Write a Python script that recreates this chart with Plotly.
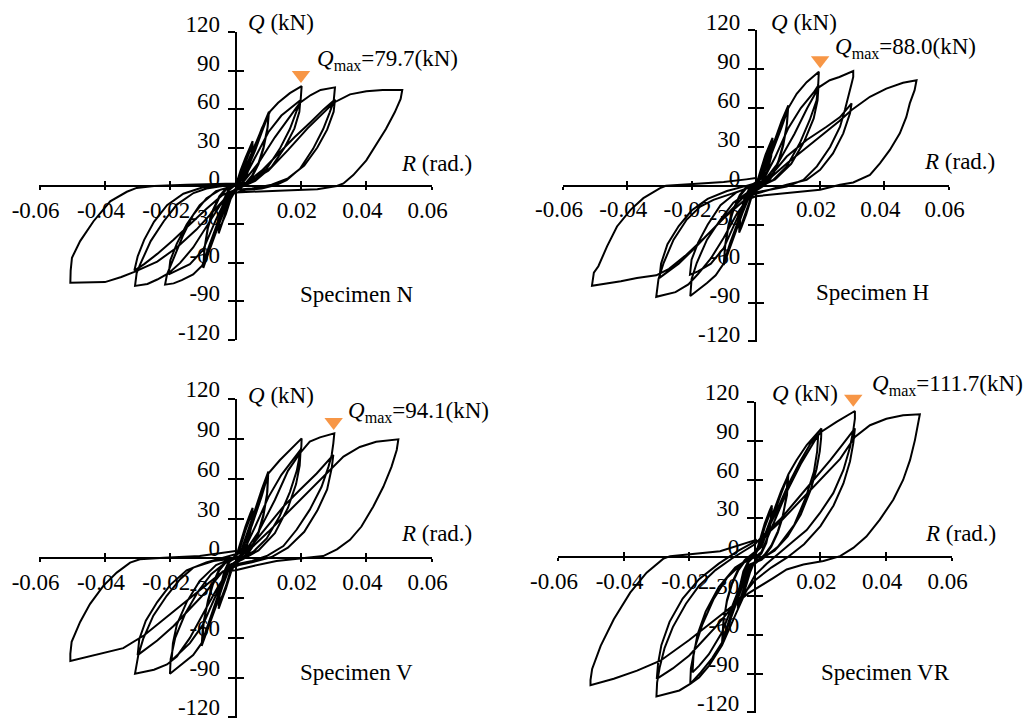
import plotly.graph_objects as go

# ---------------- data (R in rad, Q in kN) ----------------
SPECIMENS = ["N", "H", "V", "VR"]
QMAX = [79.7, 88.0, 94.1, 111.7]
QMAX_R = [0.02, 0.02, 0.03, 0.03]

X_TICKS = [-0.06, -0.04, -0.02, 0.02, 0.04, 0.06]
X_TICKTEXT = ["-0.06", "-0.04", "-0.02", "0.02", "0.04", "0.06"]
Y_TICKS = [-120, -90, -60, -30, 0, 30, 60, 90, 120]
Y_TICKTEXT = ["-120", "-90", "-60", "-30", "0", "30", "60", "90", "120"]

N_R = [0.0,
       0.0015, 0.003, 0.0045, 0.0052,
       0.0048, 0.0035, 0.002, 0.0005,
       -0.001, -0.0025, -0.004, -0.0052,
       -0.0048, -0.0035, -0.002, -0.0005,
       0.0015, 0.003, 0.0045, 0.0052,
       0.0048, 0.0035, 0.002, 0.0005,
       -0.0015, -0.003, -0.0045, -0.0052,
       -0.0048, -0.0035, -0.002, -0.0005,
       0.002, 0.004, 0.006, 0.008, 0.0102,
       0.0098, 0.0085, 0.007, 0.005, 0.003, 0.001,
       -0.002, -0.004, -0.006, -0.008, -0.0099,
       -0.0096, -0.0085, -0.007, -0.005, -0.003, -0.001,
       0.002, 0.004, 0.006, 0.008, 0.0101,
       0.0097, 0.0085, 0.007, 0.005, 0.003, 0.001,
       -0.002, -0.004, -0.006, -0.008, -0.0098,
       -0.0095, -0.0085, -0.007, -0.005, -0.003, -0.001,
       0.002, 0.005, 0.008, 0.0105, 0.013, 0.0166, 0.0202,
       0.0199, 0.0186, 0.0166, 0.0135, 0.0095, 0.0054, 0.0013,
       -0.002, -0.005, -0.008, -0.0102, -0.013, -0.0165, -0.019, -0.0216,
       -0.021, -0.019, -0.016, -0.013, -0.0089, -0.0048, -0.0007,
       0.002, 0.006, 0.010, 0.014, 0.018, 0.0198,
       0.0195, 0.018, 0.015, 0.011, 0.006, 0.001,
       -0.002, -0.006, -0.010, -0.014, -0.018, -0.0205,
       -0.020, -0.018, -0.015, -0.011, -0.006, -0.001,
       0.002, 0.007, 0.012, 0.016, 0.0197, 0.023, 0.026, 0.0304,
       0.0300, 0.0288, 0.0268, 0.0237, 0.0197, 0.0156, 0.0125, 0.008, 0.003,
       -0.003, -0.008, -0.013, -0.017, -0.0205, -0.024, -0.027, -0.0308,
       -0.0303, -0.0292, -0.026, -0.022, -0.018, -0.0129, -0.0089, -0.004, 0.0,
       0.003, 0.008, 0.013, 0.018, 0.023, 0.027, 0.0304,
       0.030, 0.028, 0.025, 0.021, 0.016, 0.011, 0.005, 0.0,
       -0.004, -0.009, -0.014, -0.019, -0.024, -0.028, -0.031,
       -0.030, -0.028, -0.025, -0.021, -0.016, -0.010, -0.004, 0.0,
       0.004, 0.010, 0.016, 0.022, 0.027, 0.030, 0.035, 0.040, 0.045, 0.051,
       0.0505, 0.0487, 0.046, 0.043, 0.040, 0.036, 0.033, 0.031, 0.025, 0.015, 0.005, 0.0,
       -0.003, -0.007, -0.012, -0.018, -0.024, -0.031, -0.035, -0.040, -0.045, -0.0506,
       -0.0505, -0.0501, -0.0476, -0.0435, -0.0384, -0.0333, -0.0303, -0.025, -0.015, -0.005, 0.0]
N_Q = [0,
       12, 22, 31, 35,
       24, 10, 3, 0,
       -6, -16, -28, -37,
       -25, -11, -3, 0,
       8, 18, 28, 33,
       22, 9, 2, -1,
       -10, -22, -31, -35,
       -23, -10, -2, 0,
       8, 20, 32, 45, 58,
       46, 30, 18, 8, 2, -1,
       -9, -22, -36, -50, -64,
       -50, -33, -20, -9, -3, 0,
       5, 16, 28, 42, 56,
       44, 29, 17, 7, 1, -2,
       -7, -19, -33, -48, -62,
       -48, -32, -19, -8, -2, 0,
       6, 25, 45, 58, 65, 72.5, 78,
       67, 57.5, 44.5, 29, 13.5, 4.5, 0,
       -6, -25, -46, -62, -69, -73.5, -76, -77,
       -69, -56, -38, -22.5, -9.5, -3, 0,
       3, 22, 42, 55, 63, 67,
       58, 45, 30, 15, 4, -2,
       -5, -26, -50, -61, -66, -69,
       -58, -45, -30, -15, -4, 0,
       2, 18, 38, 52, 65, 71, 75, 77,
       66, 57.5, 44.5, 29, 13.5, 4.5, 1, -2, -3,
       -8, -28, -48, -60, -68, -73, -76.5, -78,
       -68, -61, -43, -27.5, -14.5, -5.5, -2, 0, 1,
       2, 12, 25, 38, 50, 60, 67.5,
       58, 44, 30, 16, 6, 1, -2, -3,
       -7, -18, -30, -42, -53, -61, -66,
       -55, -42, -28, -15, -6, -1, 1, 1,
       3, 12, 28, 45, 58, 65, 71.5, 74, 75, 75,
       68, 57.5, 44.5, 32, 20, 8.5, 2, 0, -2.5, -3.5, -4.5, -5,
       -9, -20, -34, -48, -59, -67, -71, -75, -75.5, -75.5,
       -66, -56, -43, -27.5, -12, -4.5, -1.5, 0, 1, 1.5, 2]

H_R = [0.0,
       0.0015, 0.003, 0.0045, 0.0052,
       0.0048, 0.0035, 0.002, 0.0005,
       -0.0015, -0.003, -0.0045, -0.0052,
       -0.0048, -0.0035, -0.002, -0.0005,
       0.0015, 0.003, 0.0045, 0.0052,
       0.0048, 0.0035, 0.002, 0.0005,
       -0.0015, -0.003, -0.0045, -0.0052,
       -0.0048, -0.0035, -0.002, -0.0005,
       0.002, 0.004, 0.006, 0.008, 0.0101,
       0.0097, 0.0085, 0.007, 0.005, 0.003, 0.001,
       -0.002, -0.004, -0.006, -0.008, -0.010,
       -0.0096, -0.0085, -0.007, -0.005, -0.003, -0.001,
       0.002, 0.004, 0.006, 0.008, 0.0100,
       0.0096, 0.0085, 0.007, 0.005, 0.003, 0.001,
       -0.002, -0.004, -0.006, -0.008, -0.0099,
       -0.0095, -0.0085, -0.007, -0.005, -0.003, -0.001,
       0.002, 0.005, 0.008, 0.0101, 0.0127, 0.0158, 0.0196,
       0.0194, 0.0189, 0.0168, 0.0137, 0.0096, 0.0054, 0.0013,
       -0.002, -0.005, -0.008, -0.010, -0.0125, -0.0152, -0.018, -0.0204,
       -0.020, -0.0184, -0.0152, -0.011, -0.007, -0.0028, 0.0,
       0.002, 0.006, 0.010, 0.014, 0.018, 0.0195,
       0.0192, 0.018, 0.015, 0.011, 0.006, 0.001,
       -0.002, -0.006, -0.010, -0.014, -0.018, -0.0205,
       -0.020, -0.018, -0.015, -0.011, -0.006, -0.001,
       0.002, 0.007, 0.012, 0.016, 0.0196, 0.023, 0.026, 0.0303,
       0.0303, 0.0298, 0.0288, 0.0277, 0.0262, 0.0231, 0.019, 0.0148, 0.0096, 0.004, 0.0,
       -0.002, -0.006, -0.010, -0.014, -0.018, -0.021, -0.025, -0.031,
       -0.0303, -0.0287, -0.0256, -0.0215, -0.0173, -0.0132, -0.007, 0.0,
       0.003, 0.0096, 0.0158, 0.022, 0.0262, 0.0298,
       0.0293, 0.0272, 0.024, 0.020, 0.0158, 0.0096, 0.004, 0.0,
       -0.004, -0.009, -0.014, -0.019, -0.024, -0.0300,
       -0.0295, -0.0275, -0.024, -0.020, -0.015, -0.009, -0.003, 0.0,
       0.004, 0.010, 0.016, 0.022, 0.026, 0.0298, 0.0355, 0.0406, 0.0458, 0.050,
       0.0494, 0.0479, 0.0468, 0.0448, 0.0417, 0.0386, 0.0355, 0.0303, 0.0262, 0.020, 0.012, 0.005, 0.0,
       -0.004, -0.010, -0.016, -0.022, -0.027, -0.031, -0.037, -0.042, -0.051,
       -0.0508, -0.0504, -0.049, -0.0463, -0.0432, -0.039, -0.035, -0.0298, -0.028, -0.020, -0.010, -0.003, 0.0]
H_Q = [0,
       12, 24, 33, 37,
       25, 11, 4, 0,
       -10, -22, -32, -36,
       -24, -10, -3, 0,
       9, 20, 30, 35,
       23, 10, 3, -1,
       -9, -20, -30, -34,
       -22, -9, -2, 0,
       8, 22, 36, 50, 62,
       48, 32, 19, 8, 2, -1,
       -8, -20, -34, -48, -61,
       -47, -31, -19, -8, -2, 1,
       6, 19, 33, 47, 60,
       46, 31, 18, 7, 1, -2,
       -7, -19, -32, -46, -59,
       -45, -30, -18, -7, -1, 1,
       6, 25, 45, 60, 71, 80, 88,
       78, 66, 51, 33, 15, 4.5, 0.5,
       -6, -24, -44, -60, -69, -75, -80, -85,
       -72, -59.5, -41.5, -26, -13, -5.5, -1,
       3, 22, 44, 60, 72, 77.7,
       66, 52, 34, 17, 5, -1,
       -5, -26, -48, -60, -66, -68.5,
       -57, -44, -30, -15, -5, 0,
       2, 18, 40, 60, 76, 81.5, 84, 88.5,
       84, 79, 68.7, 58.5, 45.6, 30, 15, 4.6, -0.5, -3, -5,
       -8, -22, -40, -56, -68, -76, -82, -85.6,
       -72, -59.5, -41.5, -26, -16, -10.8, -5.6, 0,
       3, 22.6, 35.4, 45.6, 53, 63.6,
       56, 40.5, 25, 12.3, 4.6, 0.8, -3, -6,
       -9, -22, -35, -48, -60, -71,
       -60, -45, -31, -19, -10, -4, 0, 2,
       5, 18, 30, 42, 50, 58.5, 68.7, 75, 79.5, 81.5,
       73.8, 63.6, 53, 40.5, 27.7, 17.4, 8.5, 2.6, 0.8, -3, -5, -7, -8,
       -12, -25, -40, -54, -64, -69, -71, -73.6, -77,
       -72, -67, -62, -46.7, -31.3, -18.5, -9.5, -1.8, 0, 1.5, 3, 5, 6]

V_R = [0.0,
       0.0015, 0.003, 0.0045, 0.0052,
       0.0048, 0.0035, 0.002, 0.0005,
       -0.0015, -0.003, -0.0045, -0.0052,
       -0.0048, -0.0035, -0.002, -0.0005,
       0.0015, 0.003, 0.0045, 0.0052,
       0.0048, 0.0035, 0.002, 0.0005,
       -0.0015, -0.003, -0.0045, -0.0052,
       -0.0048, -0.0035, -0.002, -0.0005,
       0.002, 0.004, 0.006, 0.008, 0.010,
       0.0097, 0.0085, 0.007, 0.005, 0.003, 0.001,
       -0.002, -0.004, -0.006, -0.008, -0.0104,
       -0.010, -0.0085, -0.007, -0.005, -0.003, -0.001,
       0.002, 0.004, 0.006, 0.008, 0.0099,
       0.0096, 0.0085, 0.007, 0.005, 0.003, 0.001,
       -0.002, -0.004, -0.006, -0.008, -0.0102,
       -0.0098, -0.0085, -0.007, -0.005, -0.003, -0.001,
       0.002, 0.005, 0.008, 0.010, 0.0135, 0.0166, 0.0202,
       0.0201, 0.0197, 0.0187, 0.0166, 0.0135, 0.0095, 0.0054, 0.0013,
       -0.002, -0.005, -0.008, -0.0104, -0.013, -0.0165, -0.0201,
       -0.0199, -0.0185, -0.0155, -0.0115, -0.0075, -0.0035, 0.0,
       0.002, 0.006, 0.010, 0.014, 0.018, 0.0199,
       0.0196, 0.0185, 0.016, 0.012, 0.007, 0.002,
       -0.002, -0.006, -0.010, -0.014, -0.018, -0.0196,
       -0.0192, -0.018, -0.015, -0.011, -0.006, -0.001,
       0.002, 0.007, 0.012, 0.016, 0.0199, 0.0227, 0.0258, 0.0302,
       0.0299, 0.0294, 0.0284, 0.0263, 0.0227, 0.0187, 0.0146, 0.0095, 0.005, 0.001,
       -0.002, -0.006, -0.010, -0.014, -0.018, -0.021, -0.025, -0.0308,
       -0.0298, -0.0283, -0.0252, -0.0211, -0.017, -0.013, -0.0068, 0.0,
       0.003, 0.0095, 0.0146, 0.0197, 0.0248, 0.0299,
       0.0294, 0.028, 0.025, 0.021, 0.016, 0.011, 0.005, 0.001,
       -0.004, -0.009, -0.014, -0.019, -0.024, -0.030,
       -0.0295, -0.0275, -0.024, -0.020, -0.015, -0.009, -0.003, 0.0,
       0.004, 0.010, 0.016, 0.022, 0.026, 0.0289, 0.033, 0.038, 0.043, 0.0498,
       0.0493, 0.0477, 0.0452, 0.0421, 0.0385, 0.035, 0.031, 0.0268, 0.0197, 0.0125, 0.0054, 0.0,
       -0.004, -0.010, -0.016, -0.022, -0.028, -0.0344, -0.042, -0.0506,
       -0.0506, -0.0502, -0.0476, -0.0446, -0.0405, -0.0364, -0.0323, -0.0293, -0.022, -0.011, 0.0]
V_Q = [0,
       12, 24, 34, 38,
       26, 11, 4, 0,
       -11, -23, -33, -38,
       -25, -11, -3, 0,
       9, 21, 31, 36,
       24, 10, 3, -1,
       -9, -21, -31, -36,
       -23, -10, -2, 0,
       8, 22, 37, 52, 65.5,
       50, 33, 20, 9, 2, -1,
       -8, -21, -36, -50, -66,
       -50, -33, -20, -9, -3, 0,
       6, 19, 34, 49, 63,
       48, 32, 19, 8, 1, -2,
       -7, -19, -34, -49, -64,
       -49, -32, -19, -8, -2, 0,
       6, 25, 47, 64, 74, 81.75, 90.5,
       84, 78, 66, 50, 32, 15, 5, 0,
       -6, -25, -46, -64, -73, -80, -87,
       -76, -60, -42, -25, -12, -4, 0,
       3, 24, 46, 63, 76, 82,
       70, 56, 38, 19, 6, -1,
       -5, -27, -50, -64, -73, -77,
       -64, -50, -33, -17, -5, 0,
       2, 20, 44, 66, 80, 88, 91.25, 94.25,
       86.75, 78, 69, 54, 36.75, 21.75, 9.25, 1.75, -2, -4,
       -8, -24, -42, -60, -74, -80, -84, -87,
       -73, -60.75, -43.25, -28.25, -15.75, -7, -2, 0,
       4, 24, 39, 51.75, 64, 78,
       68, 52, 36, 20, 8, 1, -3, -5,
       -10, -25, -38, -51, -62, -73,
       -61, -47, -33, -20, -9, -3, 1, 3,
       6, 20, 35, 50, 60, 66.75, 76.75, 84, 88, 89.75,
       81.75, 69, 54, 39, 24, 14, 6.75, 1.75, 0, -2, -5.75, -9,
       -10, -22, -34, -46, -58, -67.75, -72.5, -77.5,
       -72, -63, -48, -34.5, -20.75, -10.75, -3.25, -0.75, 0.5, 1.75, 5.5]

VR_R = [0.0,
        0.0015, 0.003, 0.0045, 0.0052,
        0.0048, 0.0035, 0.002, 0.0005,
        -0.0015, -0.003, -0.0045, -0.0052,
        -0.0048, -0.0035, -0.002, -0.0005,
        0.0015, 0.003, 0.0045, 0.0052,
        0.0048, 0.0035, 0.002, 0.0005,
        -0.0015, -0.003, -0.0045, -0.0052,
        -0.0048, -0.0035, -0.002, -0.0005,
        0.002, 0.004, 0.006, 0.008, 0.0102,
        0.0098, 0.0085, 0.007, 0.005, 0.003, 0.001,
        -0.002, -0.004, -0.006, -0.008, -0.010,
        -0.0096, -0.0085, -0.007, -0.005, -0.003, -0.001,
        0.002, 0.004, 0.006, 0.008, 0.0100,
        0.0096, 0.0085, 0.007, 0.005, 0.003, 0.001,
        -0.002, -0.004, -0.006, -0.008, -0.0099,
        -0.0095, -0.0085, -0.007, -0.005, -0.003, -0.001,
        0.002, 0.005, 0.008, 0.0102, 0.0127, 0.0158, 0.0203,
        0.0202, 0.0198, 0.0188, 0.017, 0.014, 0.010, 0.006, 0.002,
        -0.002, -0.005, -0.008, -0.010, -0.013, -0.0165, -0.0197,
        -0.0195, -0.0183, -0.016, -0.0125, -0.0085, -0.004, 0.0,
        0.002, 0.006, 0.010, 0.014, 0.017, 0.0193,
        0.019, 0.018, 0.0155, 0.012, 0.007, 0.002,
        -0.002, -0.006, -0.010, -0.014, -0.017, -0.019,
        -0.0187, -0.0175, -0.015, -0.011, -0.006, -0.001,
        0.002, 0.006, 0.010, 0.014, 0.017, 0.0203, 0.0249, 0.0305,
        0.0305, 0.030, 0.029, 0.027, 0.0239, 0.0198, 0.0158, 0.0117, 0.0077, 0.0036, 0.0,
        -0.003, -0.006, -0.010, -0.014, -0.017, -0.0197, -0.023, -0.030,
        -0.0298, -0.029, -0.0275, -0.025, -0.021, -0.017, -0.012, -0.007, -0.002, 0.0,
        0.003, 0.008, 0.013, 0.018, 0.023, 0.027, 0.0305,
        0.030, 0.029, 0.027, 0.024, 0.020, 0.015, 0.010, 0.005, 0.0,
        -0.004, -0.008, -0.012, -0.016, -0.020, -0.025, -0.0299,
        -0.0295, -0.0285, -0.026, -0.022, -0.017, -0.011, -0.005, 0.0,
        0.002, 0.008, 0.014, 0.020, 0.026, 0.0305, 0.0351, 0.0401, 0.0452, 0.0503,
        0.0498, 0.0488, 0.0473, 0.0452, 0.0422, 0.0381, 0.034, 0.030, 0.026, 0.0209, 0.0148, 0.0097, 0.0057, 0.0016,
        -0.002, -0.008, -0.014, -0.020, -0.0288, -0.0359, -0.043, -0.0501,
        -0.0501, -0.0496, -0.047, -0.043, -0.038, -0.033, -0.0278, -0.0258, -0.0106, -0.0055, 0.0006]
VR_Q = [0,
        13, 26, 36, 40,
        28, 12, 4, 0,
        -12, -25, -35, -40,
        -27, -12, -4, 0,
        10, 23, 33, 38,
        26, 11, 3, -1,
        -10, -22, -33, -38,
        -25, -11, -3, 0,
        10, 24, 38, 51, 63.6,
        48, 32, 20, 9, 2, -2,
        -10, -24, -38, -52, -66,
        -50, -34, -21, -10, -3, 1,
        8, 21, 35, 49, 62,
        47, 31, 19, 8, 1, -3,
        -9, -22, -37, -51, -64,
        -49, -33, -20, -9, -2, 2,
        8, 28, 50, 64, 75, 86.7, 99.5,
        92, 82, 68, 52, 33, 16, 5, -1,
        -8, -28, -50, -66, -78, -89, -98,
        -86, -70, -52, -32, -16, -5, 0,
        4, 28, 52, 72, 85, 94.4,
        82, 66, 46, 25, 8, -2,
        -6, -32, -58, -75, -84, -89,
        -76, -60, -42, -23, -8, 0,
        12, 32, 55, 75, 88, 97, 104.6, 113,
        107, 98, 85, 67.4, 49.5, 34, 21, 12.3, 4, -5, -14,
        -28, -45, -68, -84, -93, -98, -103, -107.7,
        -97, -85, -70, -54, -36, -22, -10, -1, 7, 10,
        18, 30, 45, 60, 75, 88, 99.5,
        88, 74, 57, 40, 24, 10, 0, -8, -18,
        -30, -42, -54, -65, -76, -86, -94,
        -82, -68, -50, -32, -17, -5, 5, 12,
        14, 28, 44, 60, 76, 93, 102, 107, 109.7, 110.5,
        103, 90.5, 75, 59.7, 44.4, 29, 16, 7.2, 0.8, -3, -5.6, -9.5, -16, -22.3,
        -28, -40, -52, -64, -80, -87.7, -94, -99,
        -95, -86.4, -68.5, -48, -27.4, -12, -1, 0.8, 4.6, 8.5, 13.6]

SERIES_R = [N_R, H_R, V_R, VR_R]
SERIES_Q = [N_Q, H_Q, V_Q, VR_Q]

# ---------------- style / layout ----------------
W, H = 1033, 720
OFF = 8                    # page body margin compensation (px)
FONT = "Liberation Serif"
FS = 23
ORANGE = "#F79646"
# panel plot-area boxes in target-image pixels: x0, x1, ytop, ybottom
PANELS_PX = [(39.3, 432.0, 32.0, 340.0), (562.7, 949.0, 30.0, 341.7),
             (39.3, 432.0, 399.0, 717.7), (557.7, 952.0, 401.7, 712.7)]
QT_SHIFT = [(10, 10), (13, 8), (10, 4), (15, 8)]          # "Q (kN)" label
RT_SHIFT = [(5, 23), (11, 24), (5, 25), (9, 24)]          # "R (rad.)" label
QM_SHIFT = [(14, 24), (12.5, 23.5), (12.8, 22), (16.6, 27.5)]  # Qmax text
MARK_PX = [9, 11.5, 11.6, 14]                             # marker above peak
EXTRA_PX = 20                                             # headroom for markers
YLAB_SHIFT = [-8, -8, -10, -10]
SPEC_POS = [(0.019, -84.5), (0.018, -82.2), (0.019, -86.3), (0.0196, -89.5)]

fig = go.Figure()
layout = dict(width=W, height=H,
              margin=dict(l=0, r=0, t=0, b=0, pad=0, autoexpand=False),
              paper_bgcolor="white", plot_bgcolor="rgba(0,0,0,0)",
              showlegend=False, font=dict(family=FONT, size=FS, color="black"))
annotations = []
YR = [-120.2, 120.2]
XR = [-0.0601, 0.0601]

for i in range(4):
    x0, x1, yt, yb = [v - OFF for v in PANELS_PX[i]]
    xd = [x0 / W, x1 / W]
    yd = [1 - yb / H, 1 - yt / H]
    xmid = (xd[0] + xd[1]) / 2
    ymid = (yd[0] + yd[1]) / 2
    n = i + 1
    sx = "" if n == 1 else str(n)
    xa, ya = "x" + sx, "y" + sx
    xo, yo = "x" + str(n + 4), "y" + str(n + 4)
    xm, ym = "x" + str(n + 8), "y" + str(n + 8)
    kn_per_px = (YR[1] - YR[0]) / (yb - yt)

    fig.add_trace(go.Scatter(x=SERIES_R[i], y=SERIES_Q[i], mode="lines",
                             line=dict(color="black", width=2),
                             xaxis=xa, yaxis=ya, hoverinfo="skip"))
    fig.add_trace(go.Scatter(x=[None], y=[None], xaxis=xo, yaxis=yo,
                             hoverinfo="skip", showlegend=False))
    # Qmax marker on a hidden axis pair with extra headroom (same data->pixel mapping)
    fig.add_trace(go.Scatter(x=[QMAX_R[i]], y=[QMAX[i] + MARK_PX[i] * kn_per_px],
                             mode="markers",
                             marker=dict(symbol="triangle-down", size=16, color=ORANGE,
                                         line=dict(width=0)),
                             xaxis=xm, yaxis=ym, hoverinfo="skip"))

    common = dict(showgrid=False, zeroline=False, fixedrange=True, automargin=False)
    layout["xaxis" + sx] = dict(domain=xd, range=XR, anchor="free",
                                position=ymid, showline=True, linecolor="black",
                                linewidth=2, ticks="outside", ticklen=3, tickwidth=2,
                                tickcolor="black", tickvals=X_TICKS, ticktext=X_TICKTEXT,
                                ticklabelshift=-4,
                                tickfont=dict(family=FONT, size=FS, color="black"),
                                **common)
    layout["yaxis" + sx] = dict(domain=yd, range=YR, anchor="free",
                                position=xmid, showline=True, linecolor="black",
                                linewidth=2, ticks="outside", ticklen=7, tickwidth=2,
                                tickcolor="black", tickvals=Y_TICKS, ticktext=Y_TICKTEXT,
                                ticklabelstandoff=3, ticklabelshift=YLAB_SHIFT[i],
                                tickfont=dict(family=FONT, size=FS, color="black"),
                                **common)
    layout["xaxis" + str(n + 4)] = dict(overlaying=xa, range=XR,
                                        anchor="free", position=ymid, side="bottom",
                                        showline=False, ticks="inside", ticklen=5,
                                        tickwidth=2, tickcolor="black", tickvals=X_TICKS,
                                        showticklabels=False, **common)
    layout["yaxis" + str(n + 4)] = dict(overlaying=ya, range=YR,
                                        anchor="free", position=xmid, side="left",
                                        showline=False, ticks="inside", ticklen=7,
                                        tickwidth=2, tickcolor="black", tickvals=Y_TICKS,
                                        showticklabels=False, **common)
    # hidden marker axes: same x domain, y domain extended upward by EXTRA_PX
    layout["xaxis" + str(n + 8)] = dict(domain=xd, range=XR, visible=False,
                                        anchor=ym, **common)
    layout["yaxis" + str(n + 8)] = dict(domain=[yd[0], yd[1] + EXTRA_PX / H],
                                        range=[YR[0], YR[1] + EXTRA_PX * kn_per_px],
                                        visible=False, anchor=xm, **common)

    fnt = dict(family=FONT, size=FS, color="black")
    annotations.append(dict(text="<i>Q</i> (kN)", x=0, y=120, xref=xa, yref=ya,
                            xanchor="left", yanchor="middle", showarrow=False,
                            xshift=QT_SHIFT[i][0], yshift=QT_SHIFT[i][1], font=fnt))
    annotations.append(dict(text="<i>R</i> (rad.)", x=0.06, y=0, xref=xa, yref=ya,
                            xanchor="center", yanchor="middle", showarrow=False,
                            xshift=RT_SHIFT[i][0], yshift=RT_SHIFT[i][1], font=fnt))
    annotations.append(dict(text="<i>Q</i><sub>max</sub>=%.1f(kN)" % QMAX[i],
                            x=QMAX_R[i], y=QMAX[i], xref=xa, yref=ya,
                            xanchor="left", yanchor="middle", showarrow=False,
                            xshift=QM_SHIFT[i][0], yshift=QM_SHIFT[i][1], font=fnt))
    annotations.append(dict(text="Specimen " + SPECIMENS[i], x=SPEC_POS[i][0],
                            y=SPEC_POS[i][1], xref=xa, yref=ya, xanchor="left",
                            yanchor="middle", showarrow=False, font=fnt))

layout["annotations"] = annotations
fig.update_layout(**layout)
fig.write_html("out.html")
